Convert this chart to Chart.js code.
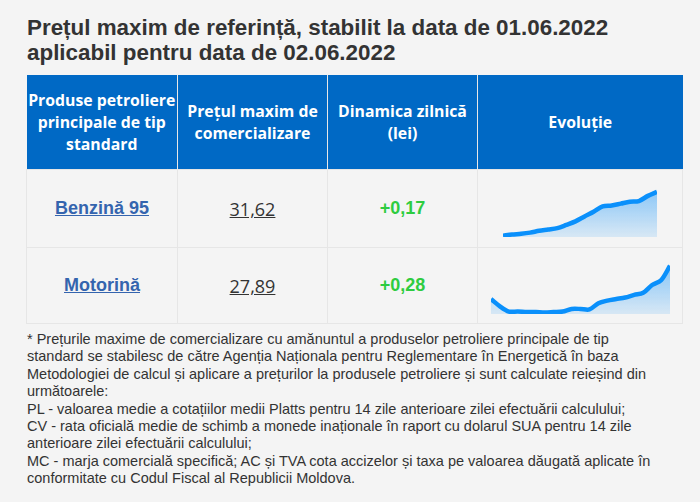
<!DOCTYPE html>
<html lang="ro">
<head>
<meta charset="utf-8">
<script src="https://cdn.jsdelivr.net/npm/chart.js@4.4.1/dist/chart.umd.min.js"></script>
<style>
    html, body { margin: 0; padding: 0; background: #f4f4f4; }
    body { width: 700px; height: 502px; overflow: hidden; font-family: "Liberation Sans", Arial, sans-serif; color: #333; }
    h1 { margin: 0; position: absolute; left: 27px; top: 15px; font-size: 22.4px; line-height: 25px; font-weight: bold; color: #333; white-space: nowrap; }
    table { position: absolute; left: 26px; top: 75px; width: 656px; border-collapse: collapse; table-layout: fixed; }
    th { background: #0069c5; color: #fff; font-family: "Open Sans", sans-serif; font-weight: 700; font-size: 15.8px; line-height: 22px; height: 94px; padding: 0; border-left: 1px solid #e8e8e8; text-align: center; }
    th:first-child { border-left: none; }
    td { border: 1px solid #e6e6e6; text-align: center; padding: 0; background: #f4f4f4; }
    tr.r1 td { height: 77px; }
    tr.r2 td { height: 75px; }
    .prod { font-weight: bold; font-size: 18px; color: #3464ae; text-decoration: underline; }
    .pret { font-family: "Open Sans", sans-serif; font-size: 18px; color: #333; text-decoration: underline; }
    .dyn { font-weight: bold; font-size: 18px; color: #2ecc40; }
    .spark { position: relative; margin: 0 auto; height: 56px; }
    .note { position: absolute; left: 27px; top: 331px; width: 640px; font-size: 14.5px; line-height: 17.4px; color: #333; }
</style>
</head>
<body>
<h1>Prețul maxim de referință, stabilit la data de 01.06.2022<br>aplicabil pentru data de 02.06.2022</h1>
<table>
    <colgroup><col style="width:151px"><col style="width:150px"><col style="width:150px"><col style="width:205px"></colgroup>
    <tr>
        <th>Produse petroliere<br>principale de tip<br>standard</th>
        <th>Prețul maxim de<br>comercializare</th>
        <th>Dinamica zilnică<br>(lei)</th>
        <th>Evoluție</th>
    </tr>
    <tr class="r1">
        <td><span class="prod">Benzină 95</span></td>
        <td><span class="pret">31,62</span></td>
        <td><span class="dyn">+0,17</span></td>
        <td><div class="spark" style="width:154px"><canvas id="benzinaChart"></canvas></div></td>
    </tr>
    <tr class="r2">
        <td><span class="prod">Motorină</span></td>
        <td><span class="pret">27,89</span></td>
        <td><span class="dyn">+0,28</span></td>
        <td><div class="spark" style="width:179px"><canvas id="motorinaChart"></canvas></div></td>
    </tr>
</table>
<div class="note">* Prețurile maxime de comercializare cu amănuntul a produselor petroliere principale de tip standard se stabilesc de către Agenția Naționala pentru Reglementare în Energetică în baza Metodologiei de calcul și aplicare a prețurilor la produsele petroliere și sunt calculate reieșind din următoarele:<br>PL - valoarea medie a cotațiilor medii Platts pentru 14 zile anterioare zilei efectuării calculului;<br>CV - rata oficială medie de schimb a monede inaționale în raport cu dolarul SUA pentru 14 zile anterioare zilei efectuării calculului;<br>MC - marja comercială specifică; AC și TVA cota accizelor și taxa pe valoarea dăugată aplicate în conformitate cu Codul Fiscal al Republicii Moldova.</div>

<script>
// evoluția prețului (lei), citită de pe grafic
const benzinaValues = [29.75, 29.80, 29.83, 29.88, 29.96, 30.01, 30.07, 30.21, 30.36, 30.57, 30.77, 31.00, 31.04, 31.12, 31.20, 31.23, 31.45, 31.62];
const motorinaValues = [27.25, 27.11, 27.01, 27.01, 27.00, 27.00, 26.99, 27.00, 27.01, 27.06, 27.06, 27.05, 27.17, 27.22, 27.25, 27.28, 27.33, 27.37, 27.52, 27.61, 27.89];

document.addEventListener('DOMContentLoaded', function() {
    initSpark('benzinaChart', benzinaValues);
    initSpark('motorinaChart', motorinaValues);
});

// mini grafic de tip sparkline
function initSpark(id, values) {
    const ctx = document.getElementById(id);
    if (!ctx) return;
    const min = Math.min(...values);
    new Chart(ctx, {
        type: 'line',
        data: {
            labels: values.map((v, i) => i + 1),
            datasets: [{
                data: values,
                borderColor: '#0a90fb',
                borderWidth: 4.5,
                pointRadius: 0,
                tension: 0.3,
                fill: 'start',
                backgroundColor: function(c) {
                    const area = c.chart.chartArea;
                    if (!area) return 'rgba(10,144,251,0.25)';
                    const g = c.chart.ctx.createLinearGradient(0, area.top, 0, area.bottom);
                    g.addColorStop(0, 'rgba(10,144,251,0.5)');
                    g.addColorStop(1, 'rgba(10,144,251,0.12)');
                    return g;
                }
            }]
        },
        options: {
            responsive: true,
            maintainAspectRatio: false,
            animation: false,
            layout: { padding: { top: 2, bottom: 0, left: 0, right: 0 } },
            scales: {
                x: { display: false },
                y: { display: false, min: min - (Math.max(...values) - min) * 0.03 }
            },
            plugins: {
                legend: { display: false },
                tooltip: { enabled: false }
            }
        }
    });
}
</script>
</body>
</html>
